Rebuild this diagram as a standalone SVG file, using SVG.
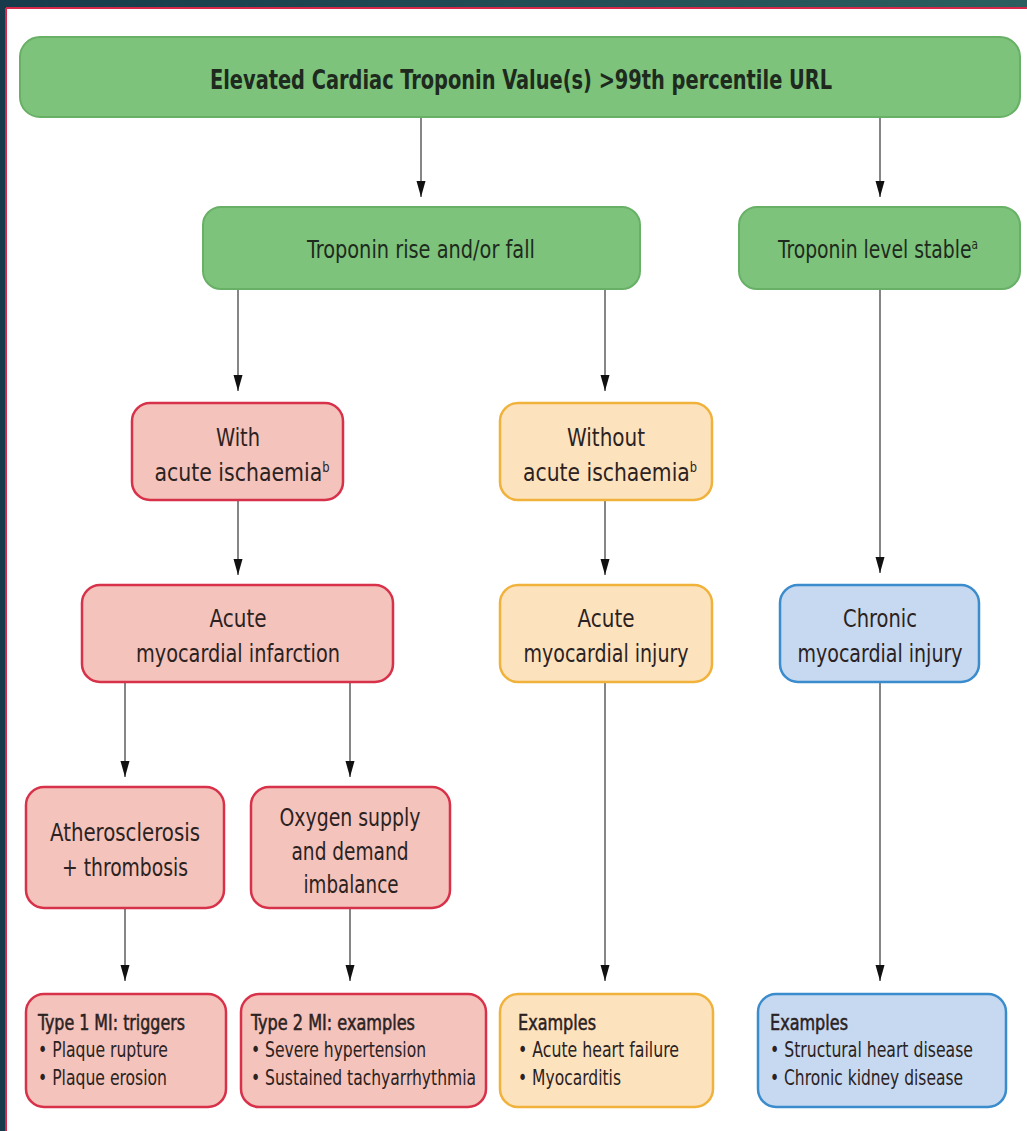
<svg xmlns="http://www.w3.org/2000/svg" width="1027" height="1131" viewBox="0 0 1027 1131">
  <defs>
    <linearGradient id="frameGrad" x1="0" y1="0" x2="1" y2="0">
      <stop offset="0" stop-color="#173b4b"/>
      <stop offset="1" stop-color="#2b5f5f"/>
    </linearGradient>
    <!-- slim black arrowhead, tip at the end of the line -->
    <marker id="arrow" viewBox="0 0 16 10" refX="16" refY="5" markerWidth="16" markerHeight="10" markerUnits="userSpaceOnUse" orient="auto">
      <path d="M0,0.5 L16,5 L0,9.5 Z" fill="#111"/>
    </marker>
    <style>
      text { font-family: "DejaVu Sans Condensed", "Liberation Sans Narrow", "Liberation Sans", sans-serif; fill: #222; }
      .t { font-size: 25px; text-anchor: middle; }
      .tb { font-size: 27px; font-weight: bold; text-anchor: middle; fill: #1b2a1b; }
      .s { font-size: 20.5px; }
      .sh { font-size: 20.5px; stroke: #2b2222; stroke-width: 0.5px; }
      .sup { font-size: 14px; }
      .green rect { fill: #7dc37b; stroke: #69b067; stroke-width: 2; }
      .green text { fill: #1e2a1e; }
      .red rect { fill: #f4c3bb; stroke: #d8324b; stroke-width: 2.5; }
      .orange rect { fill: #fde2be; stroke: #f1b23c; stroke-width: 2.5; }
      .blue rect { fill: #c6d9f0; stroke: #3a8ccc; stroke-width: 2.5; }
      .red text, .orange text, .blue text { fill: #2b2222; }
      .conn line { stroke: #444; stroke-width: 1.3; marker-end: url(#arrow); }
    </style>
  </defs>

  <!-- page frame -->
  <rect x="0" y="0" width="1027" height="1131" fill="url(#frameGrad)"/>
  <rect x="6" y="8" width="1021" height="1123" fill="#ffffff"/>
  <line x1="6" y1="8" x2="1027" y2="8" stroke="#d8284a" stroke-width="2"/>
  <line x1="6" y1="8" x2="6" y2="1131" stroke="#d8284a" stroke-width="2"/>

  <!-- connectors -->
  <g id="connectors" class="conn">
    <line x1="421" y1="118" x2="421" y2="197"/>
    <line x1="880" y1="118" x2="880" y2="197"/>
    <line x1="238" y1="289" x2="238" y2="391"/>
    <line x1="605" y1="289" x2="605" y2="391"/>
    <line x1="880" y1="289" x2="880" y2="573"/>
    <line x1="238" y1="500" x2="238" y2="575"/>
    <line x1="605" y1="500" x2="605" y2="575"/>
    <line x1="125" y1="682" x2="125" y2="777"/>
    <line x1="350" y1="682" x2="350" y2="777"/>
    <line x1="605" y1="682" x2="605" y2="981"/>
    <line x1="880" y1="682" x2="880" y2="981"/>
    <line x1="125" y1="908" x2="125" y2="981"/>
    <line x1="350" y1="908" x2="350" y2="981"/>
  </g>

  <g id="elevated-troponin" class="green">
    <rect x="20" y="37" width="1000" height="80" rx="20"/>
    <text class="tb" x="521" y="89" textLength="622" lengthAdjust="spacingAndGlyphs">Elevated Cardiac Troponin Value(s) &gt;99th percentile URL</text>
  </g>

  <g id="rise-fall" class="green">
    <rect x="203" y="207" width="437" height="82" rx="18"/>
    <text class="t" x="421" y="258" textLength="228" lengthAdjust="spacingAndGlyphs">Troponin rise and/or fall</text>
  </g>

  <g id="level-stable" class="green">
    <rect x="739" y="207" width="281" height="82" rx="18"/>
    <text class="t" x="878" y="258" textLength="200" lengthAdjust="spacingAndGlyphs">Troponin level stable<tspan class="sup" dy="-9">a</tspan></text>
  </g>

  <g id="with-ischaemia" class="red">
    <rect x="132" y="403" width="211" height="97" rx="18"/>
    <text class="t" x="238" y="446" textLength="44" lengthAdjust="spacingAndGlyphs">With</text>
    <text class="t" x="242" y="481" textLength="175" lengthAdjust="spacingAndGlyphs">acute ischaemia<tspan class="sup" dy="-9">b</tspan></text>
  </g>

  <g id="without-ischaemia" class="orange">
    <rect x="500" y="403" width="212" height="97" rx="18"/>
    <text class="t" x="606" y="446" textLength="78" lengthAdjust="spacingAndGlyphs">Without</text>
    <text class="t" x="610" y="481" textLength="174" lengthAdjust="spacingAndGlyphs">acute ischaemia<tspan class="sup" dy="-9">b</tspan></text>
  </g>

  <g id="acute-mi" class="red">
    <rect x="82" y="585" width="311" height="97" rx="18"/>
    <text class="t" x="238" y="627" textLength="57" lengthAdjust="spacingAndGlyphs">Acute</text>
    <text class="t" x="238" y="662" textLength="204" lengthAdjust="spacingAndGlyphs">myocardial infarction</text>
  </g>

  <g id="acute-injury" class="orange">
    <rect x="500" y="585" width="212" height="97" rx="18"/>
    <text class="t" x="606" y="627" textLength="57" lengthAdjust="spacingAndGlyphs">Acute</text>
    <text class="t" x="606" y="662" textLength="165" lengthAdjust="spacingAndGlyphs">myocardial injury</text>
  </g>

  <g id="chronic-injury" class="blue">
    <rect x="780" y="585" width="199" height="97" rx="18"/>
    <text class="t" x="880" y="627" textLength="74" lengthAdjust="spacingAndGlyphs">Chronic</text>
    <text class="t" x="880" y="662" textLength="165" lengthAdjust="spacingAndGlyphs">myocardial injury</text>
  </g>

  <g id="atherosclerosis" class="red">
    <rect x="26" y="787" width="198" height="121" rx="18"/>
    <text class="t" x="125" y="841" textLength="150" lengthAdjust="spacingAndGlyphs">Atherosclerosis</text>
    <text class="t" x="125" y="876" textLength="126" lengthAdjust="spacingAndGlyphs">+ thrombosis</text>
  </g>

  <g id="oxygen-imbalance" class="red">
    <rect x="251" y="787" width="199" height="121" rx="18"/>
    <text class="t" x="350" y="826" textLength="141" lengthAdjust="spacingAndGlyphs">Oxygen supply</text>
    <text class="t" x="350" y="860" textLength="117" lengthAdjust="spacingAndGlyphs">and demand</text>
    <text class="t" x="351" y="893" textLength="95" lengthAdjust="spacingAndGlyphs">imbalance</text>
  </g>

  <g id="type1-triggers" class="red">
    <rect x="26" y="994" width="200" height="113" rx="18"/>
    <text class="sh" x="38" y="1030" textLength="147" lengthAdjust="spacingAndGlyphs">Type 1 MI: triggers</text>
    <text class="s" x="38" y="1057" textLength="130" lengthAdjust="spacingAndGlyphs">• Plaque rupture</text>
    <text class="s" x="38" y="1085" textLength="129" lengthAdjust="spacingAndGlyphs">• Plaque erosion</text>
  </g>

  <g id="type2-examples" class="red">
    <rect x="241" y="994" width="245" height="113" rx="18"/>
    <text class="sh" x="251" y="1030" textLength="164" lengthAdjust="spacingAndGlyphs">Type 2 MI: examples</text>
    <text class="s" x="251" y="1057" textLength="175" lengthAdjust="spacingAndGlyphs">• Severe hypertension</text>
    <text class="s" x="251" y="1085" textLength="225" lengthAdjust="spacingAndGlyphs">• Sustained tachyarrhythmia</text>
  </g>

  <g id="acute-examples" class="orange">
    <rect x="500" y="994" width="213" height="113" rx="18"/>
    <text class="sh" x="518" y="1030" textLength="78" lengthAdjust="spacingAndGlyphs">Examples</text>
    <text class="s" x="518" y="1057" textLength="161" lengthAdjust="spacingAndGlyphs">• Acute heart failure</text>
    <text class="s" x="518" y="1085" textLength="103" lengthAdjust="spacingAndGlyphs">• Myocarditis</text>
  </g>

  <g id="chronic-examples" class="blue">
    <rect x="758" y="994" width="248" height="113" rx="18"/>
    <text class="sh" x="770" y="1030" textLength="78" lengthAdjust="spacingAndGlyphs">Examples</text>
    <text class="s" x="770" y="1057" textLength="203" lengthAdjust="spacingAndGlyphs">• Structural heart disease</text>
    <text class="s" x="770" y="1085" textLength="193" lengthAdjust="spacingAndGlyphs">• Chronic kidney disease</text>
  </g>
</svg>
